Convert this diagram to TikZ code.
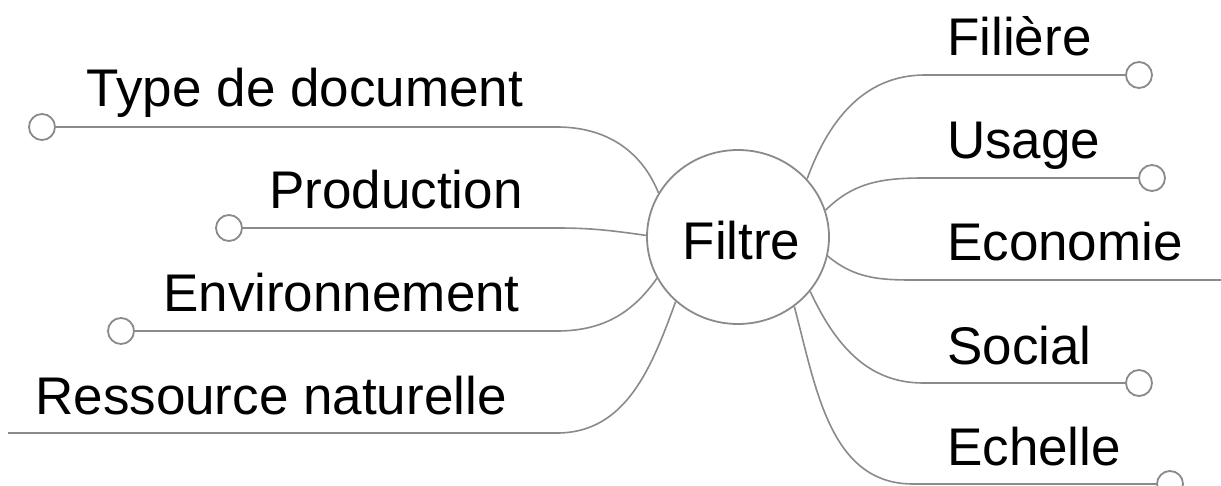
\documentclass[tikz,border=0pt]{standalone}
\usepackage{fontspec}
\setmainfont{Liberation Sans}
\usetikzlibrary{shapes.geometric}
\definecolor{lg}{RGB}{138,138,138}
\tikzset{
  conn/.style={draw=lg, line width=1.6pt},
  leaf/.style={circle, draw=lg, line width=1.8pt, fill=white, minimum size=26pt, inner sep=0pt},
  lbl/.style={font=\fontsize{53}{62}\selectfont, inner sep=0pt, text=black},
  hub/.style={ellipse, draw=lg, line width=1.8pt, fill=white, minimum width=182pt, minimum height=174pt, inner sep=0pt}
}
\begin{document}
\begin{tikzpicture}[x=1pt,y=1pt]
\useasboundingbox (0,0) rectangle (1221,485);
% hub
\node[hub] (c) at (738,248) {};
\node[lbl, anchor=base] (ct) at (741.5,225) {Filtre};
% left leaves
\node[leaf] (t1) at (42,358) {};
\node[leaf] (t2) at (229,257) {};
\node[leaf] (t3) at (121,154) {};
\coordinate (r0) at (8,52);
\coordinate (k1) at (557,358);
\coordinate (k2) at (557,257);
\coordinate (k3) at (557,154);
\coordinate (k4) at (557,52);
% right leaves
\node[leaf] (u1) at (1139,410) {};
\node[leaf] (u2) at (1152,307) {};
\coordinate (u3) at (1223,205);
\node[leaf] (u4) at (1139,102) {};
\node[leaf] (u5) at (1170,1) {};
\coordinate (m1) at (925,410);
\coordinate (m2) at (925,307);
\coordinate (m3) at (925,205);
\coordinate (m4) at (923,102);
\coordinate (m5) at (913,1);
% connectors
\draw[conn] (c.151) to[out=112,in=0] (k1) -- (t1.east);
\draw[conn] (c.179) to[out=172,in=0] (k2) -- (t2.east);
\draw[conn] (c.207) to[out=235,in=0] (k3) -- (t3.east);
\draw[conn] (c.226) to[out=250,in=0] (k4) -- (r0);
\draw[conn] (c.40) to[out=70,in=180] (m1) -- (u1.west);
\draw[conn] (c.17) to[out=45,in=180] (m2) -- (u2.west);
\draw[conn] (c.-12) to[out=-40,in=180] (m3) -- (u3);
\draw[conn] (c.-37) to[out=-65,in=180] (m4) -- (u4.west);
\draw[conn] (c.-51) to[out=-75,in=180] (m5) -- (u5.west);
% labels
\node[lbl, anchor=base] (l1) at (305,378) {Type de document};
\node[lbl, anchor=base] (l2) at (396,276) {Production};
\node[lbl, anchor=base] (l3) at (341.5,173) {Environnement};
\node[lbl, anchor=base] (l4) at (271,71) {Ressource naturelle};
\node[lbl, anchor=base west] (n1) at (947,429) {Filière};
\node[lbl, anchor=base west] (n2) at (947,326) {Usage};
\node[lbl, anchor=base west] (n3) at (947,224) {Economie};
\node[lbl, anchor=base west] (n4) at (947,121) {Social};
\node[lbl, anchor=base west] (n5) at (947,20) {Echelle};
\end{tikzpicture}
\end{document}
